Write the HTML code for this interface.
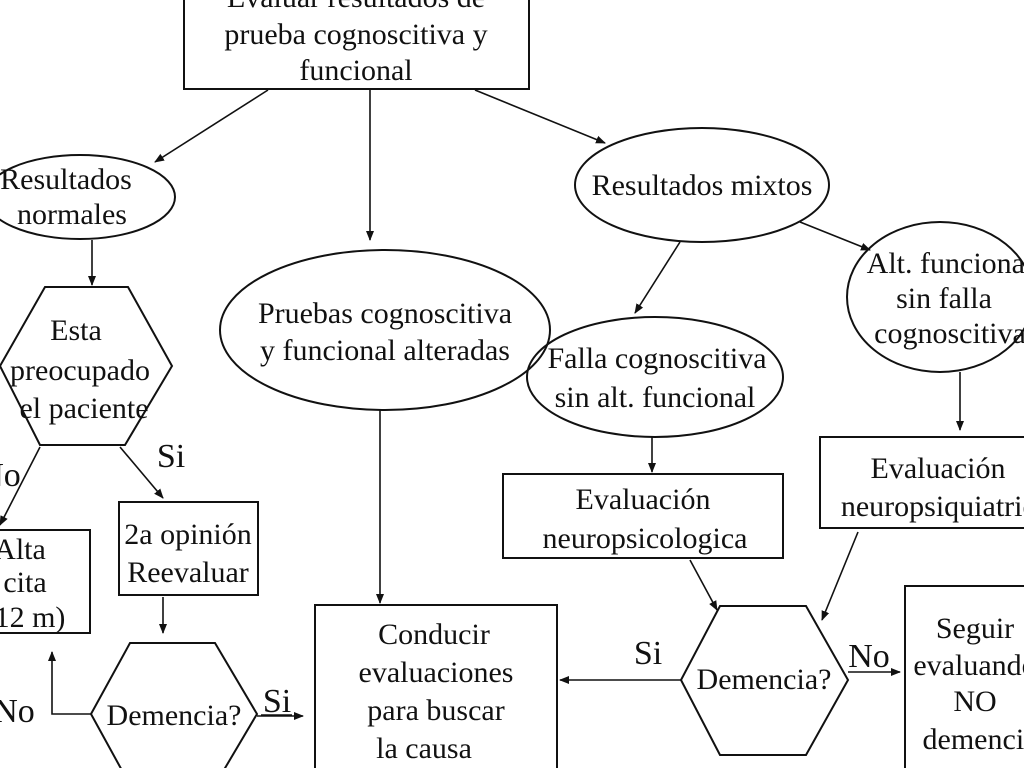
<!DOCTYPE html>
<html><head><meta charset="utf-8"><style>
html,body{margin:0;padding:0;background:#fff;}
svg{display:block;}
text{font-family:"Liberation Serif",serif;font-size:30px;fill:#111;text-anchor:middle;}
text.l{font-size:34px;}
</style></head><body>
<svg width="1024" height="768" viewBox="0 0 1024 768" xmlns="http://www.w3.org/2000/svg">
<defs><marker id="a" markerWidth="10" markerHeight="10" refX="9" refY="5" orient="auto" markerUnits="userSpaceOnUse"><path d="M0,1 L10,5 L0,9 z" fill="#111"/></marker></defs>
<g fill="none" stroke="#111" stroke-width="2">
<rect x="184" y="-10" width="345" height="99"/>
<ellipse cx="80" cy="197" rx="95" ry="42"/>
<ellipse cx="702" cy="185" rx="127" ry="57"/>
<ellipse cx="385" cy="330" rx="165" ry="80"/>
<ellipse cx="655" cy="377" rx="128" ry="60"/>
<ellipse cx="940" cy="297" rx="93" ry="75"/>
<polygon points="45,287 128,287 172,366 125,445 40,445 0,366"/>
<rect x="119" y="502" width="139" height="93"/>
<rect x="-5" y="530" width="95" height="103"/>
<polygon points="130,643 215,643 257,714 215,785 130,785 91,714"/>
<rect x="315" y="605" width="242" height="180"/>
<rect x="503" y="474" width="280" height="84"/>
<rect x="820" y="437" width="220" height="91"/>
<polygon points="720,606 806,606 848,680 806,755 720,755 681,680"/>
<rect x="905" y="586" width="130" height="190"/>
</g>
<g fill="none" stroke="#111" stroke-width="1.6" marker-end="url(#a)">
<line x1="268" y1="90" x2="155" y2="162"/>
<line x1="370" y1="90" x2="370" y2="240"/>
<line x1="475" y1="90" x2="605" y2="143"/>
<line x1="680" y1="242" x2="635" y2="313"/>
<line x1="800" y1="222" x2="870" y2="250"/>
<line x1="92" y1="240" x2="92" y2="285"/>
<line x1="40" y1="447" x2="0" y2="525"/>
<line x1="120" y1="447" x2="163" y2="498"/>
<line x1="163" y1="597" x2="163" y2="633"/>
<polyline points="91,714 52,714 52,652"/>
<line x1="257" y1="716" x2="303" y2="716"/>
<line x1="380" y1="410" x2="380" y2="603"/>
<line x1="652" y1="437" x2="652" y2="472"/>
<line x1="960" y1="372" x2="960" y2="430"/>
<line x1="690" y1="560" x2="717" y2="610"/>
<line x1="858" y1="532" x2="822" y2="620"/>
<line x1="681" y1="680" x2="560" y2="680"/>
<line x1="848" y1="672" x2="900" y2="672"/>
</g>
<text x="356" y="7">Evaluar resultados de</text>
<text x="356" y="44">prueba cognoscitiva y</text>
<text x="356" y="80">funcional</text>
<text x="66" y="189">Resultados</text>
<text x="72" y="224">normales</text>
<text x="702" y="195">Resultados mixtos</text>
<text x="385" y="323">Pruebas cognoscitiva</text>
<text x="385" y="360">y funcional alteradas</text>
<text x="657" y="368">Falla cognoscitiva</text>
<text x="655" y="407">sin alt. funcional</text>
<text x="950" y="273">Alt. funcional</text>
<text x="944" y="308">sin falla</text>
<text x="950" y="343">cognoscitiva</text>
<text x="76" y="340">Esta</text>
<text x="80" y="380">preocupado</text>
<text x="84" y="418">el paciente</text>
<text class="l" x="171" y="467">Si</text>
<text class="l" x="0" y="486">No</text>
<text x="188" y="544">2a opinión</text>
<text x="188" y="582">Reevaluar</text>
<text x="20" y="559">Alta</text>
<text x="25" y="592">cita</text>
<text x="25" y="627">(12 m)</text>
<text x="174" y="725">Demencia?</text>
<text class="l" x="14" y="722">No</text>
<text class="l" x="277" y="712">Si</text>
<line x1="261" y1="715" x2="292" y2="715" stroke="#111" stroke-width="1.5"/>
<text x="434" y="644">Conducir</text>
<text x="436" y="682">evaluaciones</text>
<text x="436" y="720">para buscar</text>
<text x="424" y="758">la causa</text>
<text x="643" y="509">Evaluación</text>
<text x="645" y="548">neuropsicologica</text>
<text x="938" y="478">Evaluación</text>
<text x="945" y="516">neuropsiquiatrica</text>
<text x="764" y="689">Demencia?</text>
<text class="l" x="648" y="664">Si</text>
<text class="l" x="869" y="667">No</text>
<text x="975" y="638">Seguir</text>
<text x="975" y="675">evaluando</text>
<text x="975" y="711">NO</text>
<text x="980" y="749">demencia</text>
</svg>
</body></html>
